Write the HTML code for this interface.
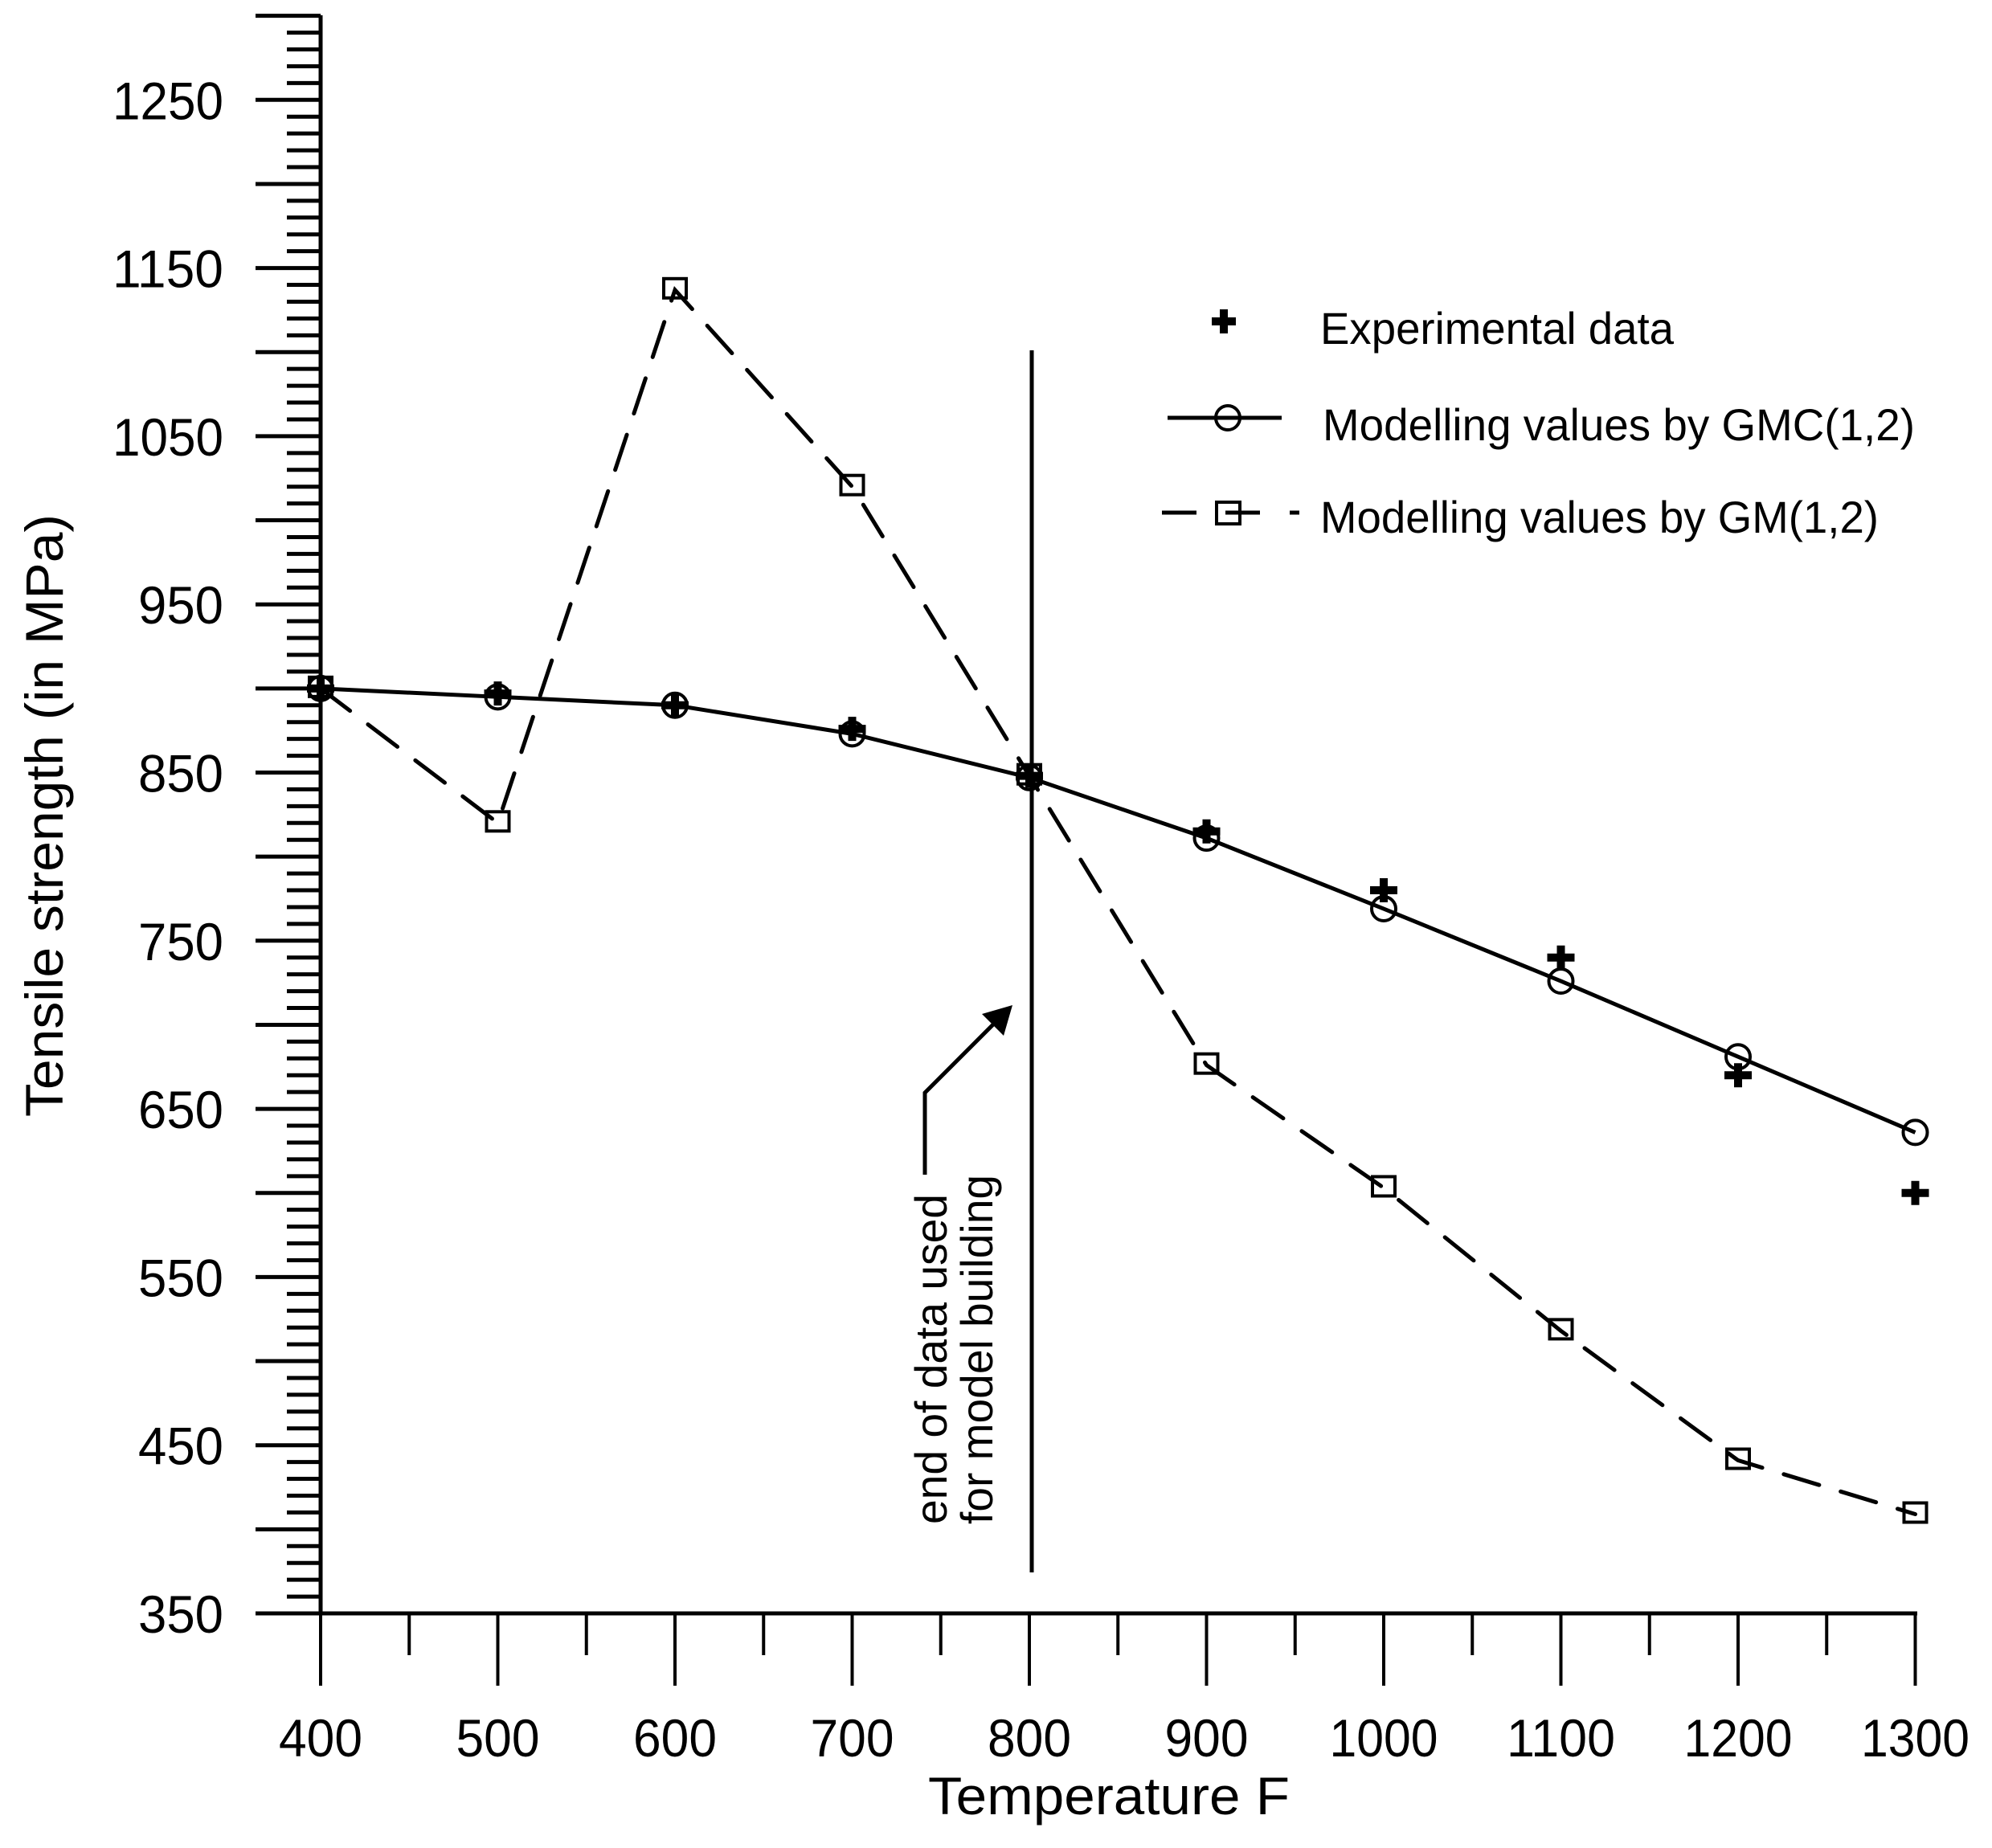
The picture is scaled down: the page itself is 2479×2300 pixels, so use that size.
<!DOCTYPE html>
<html><head><meta charset="utf-8"><style>html,body{margin:0;padding:0;background:#fff}svg{display:block}</style></head><body>
<svg xmlns="http://www.w3.org/2000/svg" width="2479" height="2300" viewBox="0 0 2479 2300" font-family="Liberation Sans, Arial, sans-serif">
<rect width="2479" height="2300" fill="#fff"/>
<g stroke="#000" stroke-width="5" fill="none" id="axes">
<line x1="399" y1="19" x2="399" y2="2008"/>
<line x1="318" y1="2008" x2="2386" y2="2008"/>
</g>
<g id="yticks" stroke="#000" stroke-width="5"></g>
<g id="xticks" stroke="#000" stroke-width="4"></g>
<g id="ylabels" font-size="66" text-anchor="end"></g>
<g id="xlabels" font-size="66" text-anchor="middle"></g>
<text x="78" y="1015" font-size="66" text-anchor="middle" transform="rotate(-90 78 1015)" textLength="750" lengthAdjust="spacingAndGlyphs">Tensile strength (in MPa)</text>
<text x="1380" y="2258" font-size="66" text-anchor="middle" textLength="450" lengthAdjust="spacingAndGlyphs">Temperature F</text>
<line x1="1284" y1="436" x2="1284" y2="1957" stroke="#000" stroke-width="5"/>
<polyline points="1151,1462 1151,1360 1236,1275" fill="none" stroke="#000" stroke-width="5"/>
<polygon points="1260,1251 1222,1262 1249,1289" fill="#000"/>
<text x="1178" y="1897" font-size="56" transform="rotate(-90 1178 1897)" textLength="411" lengthAdjust="spacingAndGlyphs">end of data used</text>
<text x="1235" y="1897" font-size="56" transform="rotate(-90 1235 1897)" textLength="435" lengthAdjust="spacingAndGlyphs">for model building</text>
<g id="series"></g>
<g stroke="#000">
<line x1="1508" y1="400" x2="1538" y2="400" stroke-width="10"/>
<line x1="1523" y1="385" x2="1523" y2="415" stroke-width="10"/>
<line x1="1453" y1="520" x2="1595" y2="520" stroke-width="5"/>
<circle cx="1528" cy="520" r="15" fill="none" stroke-width="4"/>
<line x1="1446" y1="638" x2="1489" y2="638" stroke-width="5"/>
<line x1="1525" y1="638" x2="1568" y2="638" stroke-width="5"/>
<line x1="1605" y1="638" x2="1617" y2="638" stroke-width="5"/>
<rect x="1514" y="625" width="29" height="27" fill="none" stroke-width="4"/>
</g>
<text x="1643" y="428" font-size="56" textLength="440" lengthAdjust="spacingAndGlyphs">Experimental data</text>
<text x="1646" y="548" font-size="56" textLength="737" lengthAdjust="spacingAndGlyphs">Modelling values by GMC(1,2)</text>
<text x="1643" y="663" font-size="56" textLength="695" lengthAdjust="spacingAndGlyphs">Modelling values by GM(1,2)</text>
</svg>
<script>
(function(){
var NS="http://www.w3.org/2000/svg";
function X(t){return 399+(t-400)*2.205;}
function Y(v){return 2008-(v-350)*2.093;}
function el(p,tag,a,txt){var e=document.createElementNS(NS,tag);for(var k in a)e.setAttribute(k,a[k]);if(txt!=null)e.textContent=txt;document.getElementById(p).appendChild(e);return e;}
for(var v=350;v<=1300;v+=10){var y=Y(v);var major=(v%50===0);el("yticks","line",{x1:major?318:357,y1:y,x2:399,y2:y});}
for(var v=350;v<=1250;v+=100){var s=String(v);el("ylabels","text",{x:278,y:Y(v)+24,textLength:s.length==4?138:106,lengthAdjust:"spacingAndGlyphs"},s);}
for(var t=400;t<=1300;t+=50){var x=X(t);var major=(t%100===0);el("xticks","line",{x1:x,y1:2008,x2:x,y2:major?2098:2060});}
for(var t=400;t<=1300;t+=100){var s=String(t);el("xlabels","text",{x:X(t),y:2186,textLength:s.length==4?135:104,lengthAdjust:"spacingAndGlyphs"},s);}
var T=[400,500,600,700,800,900,1000,1100,1200,1300];
var exp=[900,897,890,876,848,815,780,740,670,600];
var gmc=[900,895,890,873,847,811,769,726,681,636];
var gm=[900,820,1137,1020,848,676,603,518,441,409];
function pts(a){return T.map(function(t,i){return X(t)+","+Y(a[i]);}).join(" ");}
el("series","polyline",{points:pts(gm),fill:"none",stroke:"#000","stroke-width":5,"stroke-dasharray":"46 28","stroke-linecap":"round"});
el("series","polyline",{points:pts(gmc),fill:"none",stroke:"#000","stroke-width":5});
T.forEach(function(t,i){
 el("series","rect",{x:X(t)-14,y:Y(gm[i])-14,width:28,height:24,fill:"none",stroke:"#000","stroke-width":4});
 el("series","circle",{cx:X(t),cy:Y(gmc[i]),r:15,fill:"none",stroke:"#000","stroke-width":4});
 var x=X(t),y=Y(exp[i]);
 el("series","line",{x1:x-17,y1:y,x2:x+17,y2:y,stroke:"#000","stroke-width":10});
 el("series","line",{x1:x,y1:y-15,x2:x,y2:y+15,stroke:"#000","stroke-width":10});
});
})();
</script>
</body></html>
